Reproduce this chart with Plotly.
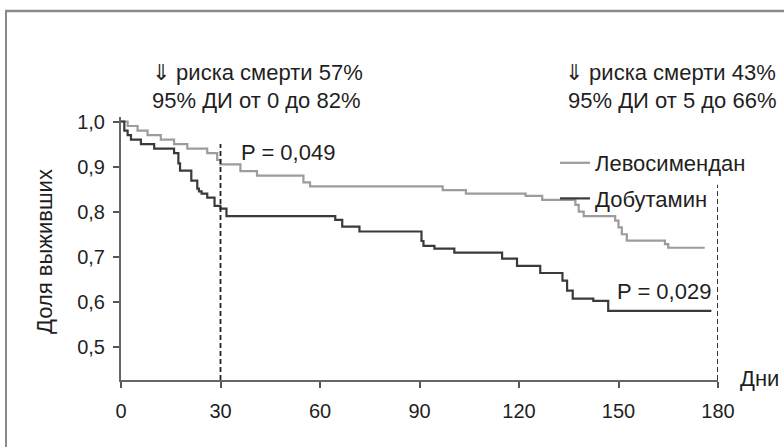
import plotly.graph_objects as go

# ---- data ----
levo_days = [0, 2, 5, 8, 12, 16, 20, 26, 29, 30, 36, 41, 55, 57, 97, 104, 122, 127,
             137, 138, 139.5, 149, 150, 151, 152.5, 164, 165, 176]
levo_surv = [1.00, 0.99, 0.98, 0.97, 0.96, 0.95, 0.94, 0.93, 0.915, 0.905, 0.89, 0.88,
             0.865, 0.856, 0.848, 0.84, 0.835, 0.826, 0.815, 0.80, 0.79, 0.78, 0.765,
             0.75, 0.736, 0.728, 0.72, 0.72]

dobu_days = [0, 1, 2, 3, 6, 10, 16, 17.3, 17.8, 21.2, 23, 23.5, 24.3, 26, 28.2, 30,
             31.8, 64.6, 66.7, 71.9, 90.6, 91.2, 94.5, 100.5, 114.9, 119.4, 126.4,
             133.1, 134.5, 136.2, 142.4, 146.9, 178]
dobu_surv = [1.00, 0.98, 0.97, 0.96, 0.95, 0.94, 0.93, 0.907, 0.891, 0.869, 0.851,
             0.845, 0.84, 0.831, 0.813, 0.807, 0.79, 0.782, 0.767, 0.756, 0.735, 0.724,
             0.718, 0.709, 0.696, 0.68, 0.664, 0.647, 0.625, 0.607, 0.602, 0.58, 0.58]

series_names = ["Левосимендан", "Добутамин"]
x_ticks = [0, 30, 60, 90, 120, 150, 180]
y_ticks = [0.5, 0.6, 0.7, 0.8, 0.9, 1.0]
y_tick_labels = ["0,5", "0,6", "0,7", "0,8", "0,9", "1,0"]
marker_days = [30, 180]
marker_tops = [0.95, 0.86]
p_labels = ["P = 0,049", "P = 0,029"]
left_note = ["⇓ риска смерти 57%", "95% ДИ от 0 до 82%"]
right_note = ["⇓ риска смерти 43%", "95% ДИ от 5 до 66%"]
x_title = "Дни"
y_title = "Доля выживших"

# ---- layout geometry ----
W, H = 784, 447
L, R, T, B = 121, 66, 117, 67
X_RANGE = [0, 180]
Y_RANGE = [0.4267, 1.01]
PW, PH = W - L - R, H - T - B


def px(xp):
    return (xp - L) / PW


def py(yp):
    return (H - B - yp) / PH


FONT = "Liberation Sans, Arial, Helvetica, sans-serif"
TXT = "#1f1f1f"
LEVO_C = "#9c9c9c"
DOBU_C = "#3a3a3a"
FS = 22      # annotation / legend text
TFS = 20     # tick labels

fig = go.Figure()
fig.add_trace(go.Scatter(x=levo_days, y=levo_surv, mode="lines", line_shape="hv",
                         line=dict(color=LEVO_C, width=2.2), name=series_names[0],
                         legendgroup="a"))
fig.add_trace(go.Scatter(x=dobu_days, y=dobu_surv, mode="lines", line_shape="hv",
                         line=dict(color=DOBU_C, width=2.2), name=series_names[1],
                         legendgroup="b"))

shapes = []
for d, top in zip(marker_days, marker_tops):
    shapes.append(dict(type="line", xref="x", yref="y", x0=d, x1=d, y0=Y_RANGE[0], y1=top,
                       line=dict(color="#222", width=1.8, dash="5px,3px")))
# outer frame (top and left border)
shapes.append(dict(type="line", xref="paper", yref="paper", x0=px(5), x1=px(784),
                   y0=py(11), y1=py(11), line=dict(color="#8a8a8a", width=2.5)))
shapes.append(dict(type="line", xref="paper", yref="paper", x0=px(6), x1=px(6),
                   y0=py(11), y1=py(447), line=dict(color="#8a8a8a", width=2)))


def note(x, y, text, anchor, angle=0):
    return dict(xref="paper", yref="paper", x=px(x), y=py(y), text=text,
                xanchor=anchor, yanchor="middle", showarrow=False, textangle=angle,
                font=dict(size=FS, color=TXT))


ann = [
    note(150, 72, left_note[0], "left"),
    note(150, 100, left_note[1], "left"),
    note(778, 72, right_note[0], "right"),
    note(778, 100, right_note[1], "right"),
    note(239, 152, p_labels[0], "left"),
    note(713, 291, p_labels[1], "right"),
    note(738, 378, x_title, "left"),
    note(44, 252, y_title, "center", -90),
]

fig.update_layout(
    width=W, height=H,
    margin=dict(l=L, r=R, t=T, b=B, pad=0),
    paper_bgcolor="white", plot_bgcolor="white",
    font=dict(family=FONT, size=FS, color=TXT),
    shapes=shapes, annotations=ann,
    showlegend=True,
    legend=dict(x=px(555), y=py(142), xanchor="left", yanchor="top",
                bgcolor="rgba(0,0,0,0)", font=dict(size=FS, color=TXT),
                tracegroupgap=4, itemwidth=30),
    xaxis=dict(range=X_RANGE, tickvals=x_ticks, ticks="outside", ticklen=6,
               tickwidth=1.5, tickcolor="#555", showline=True, linecolor="#666",
               linewidth=2, showgrid=False, zeroline=False, ticklabelstandoff=6,
               tickfont=dict(size=TFS, color=TXT), fixedrange=True),
    yaxis=dict(range=Y_RANGE, tickvals=y_ticks, ticktext=y_tick_labels, ticks="outside",
               ticklen=6, tickwidth=1.5, tickcolor="#555", showline=True,
               linecolor="#666", linewidth=2, showgrid=False, zeroline=False,
               ticklabelstandoff=4,
               tickfont=dict(size=TFS, color=TXT), fixedrange=True),
)

fig.write_html(
    "out.html",
    config={"displayModeBar": False},
    post_script="document.body.style.margin='0';document.body.style.overflow='hidden';",
)
